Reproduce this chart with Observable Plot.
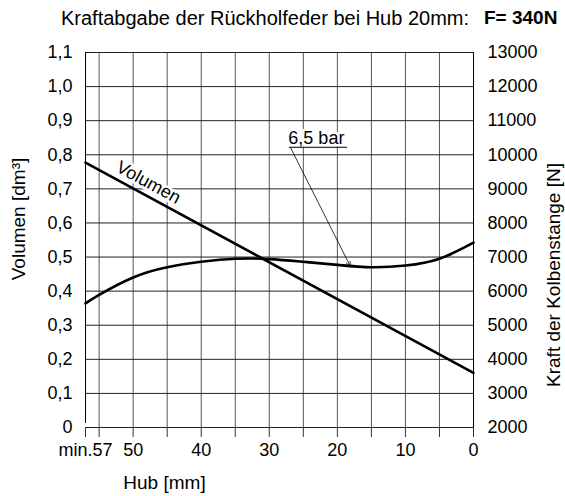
<!DOCTYPE html>
<html><head><meta charset="utf-8">
<script src="https://cdn.jsdelivr.net/npm/d3@7"></script>
<script src="https://cdn.jsdelivr.net/npm/@observablehq/plot@0.6"></script>
<style>
body{margin:0;background:#fff;font-family:"Liberation Sans",Arial,sans-serif;color:#000;}
#title{position:relative;height:36px;width:565px;font-size:20px;}
#title .t1{position:absolute;left:61px;top:7px;}
#title .t2{position:absolute;left:484px;top:7px;font-weight:bold;font-size:19px;}
#chart svg{display:block;}
</style></head><body>
<div id="title"><span class="t1">Kraftabgabe der Rückholfeder bei Hub 20mm:</span><span class="t2">F= 340N</span></div>
<div id="chart"></div>
<script>
// Volumen (left axis, dm³) vs Hub (mm)
const hubVolumen = [57, 0];
const volumenValues = [0.777, 0.16];
// Kraft der Kolbenstange (right axis, N) at 6,5 bar vs Hub (mm)
const hubKraft = [57, 55, 50, 45, 40, 35, 30, 25, 20, 15, 10, 5, 0];
const kraftValues = [5640, 5890, 6400, 6700, 6860, 6950, 6940, 6860, 6770, 6700, 6750, 6950, 7420];
// axes
const volumenTicks = [0, 0.1, 0.2, 0.3, 0.4, 0.5, 0.6, 0.7, 0.8, 0.9, 1.0, 1.1];
const volumenTickLabels = ["0", "0,1", "0,2", "0,3", "0,4", "0,5", "0,6", "0,7", "0,8", "0,9", "1,0", "1,1"];
const kraftTickLabels = ["2000", "3000", "4000", "5000", "6000", "7000", "8000", "9000", "10000", "11000", "12000", "13000"];
const kraftAtZero = 2000, kraftPerVolumen = 10000;
const hubTicks = [57, 50, 40, 30, 20, 10, 0];
const hubTickLabels = ["min.57", "50", "40", "30", "20", "10", "0"];
const hubAllTicks = [57, 55, 50, 45, 40, 35, 30, 25, 20, 15, 10, 5, 0];
const hubGrid = [55, 50, 45, 40, 35, 30, 25, 20, 15, 10, 5];
// annotations
const volumenLabel = [{hub: 47.75, v: 0.719, text: "Volumen"}];
const barLabel = [{hub: 27.2, v: 0.833, text: "6,5 bar"}];
const barUnderline = [{hub1: 27.0, hub2: 18.5, v: 0.822}];
const barLeader = [{hub1: 26.9, v1: 0.822, hub2: 18.1, v2: 0.473}];

const volumenData = hubVolumen.map((h, i) => ({hub: h, v: volumenValues[i]}));
const kraftData = hubKraft.map((h, i) => ({hub: h, v: (kraftValues[i] - kraftAtZero) / kraftPerVolumen}));

const font = "'Liberation Sans', Arial, sans-serif";
const fs = 18;
const chart = Plot.plot({
  width: 565,
  height: 460,
  marginTop: 16,
  marginBottom: 69,
  marginLeft: 85,
  marginRight: 92,
  style: {fontFamily: font, fontSize: fs + "px", background: "#fff", color: "#000", overflow: "visible"},
  x: {domain: [57, 0]},
  y: {domain: [0, 1.1]},
  marks: [
    Plot.ruleX(hubGrid, {y1: 0, y2: 1.1, stroke: "#555", strokeWidth: 1}),
    Plot.ruleY(volumenTicks, {stroke: "#222", strokeWidth: 1}),
    Plot.ruleX([57], {y1: 0, y2: 1.1, stroke: "#000", strokeWidth: 1, insetTop: -4}),
    Plot.ruleX([0], {y1: 0, y2: 1.1, stroke: "#000", strokeWidth: 1}),
    Plot.axisX({
      ticks: hubAllTicks,
      tickFormat: d => { const i = hubTicks.indexOf(d); return i >= 0 ? hubTickLabels[i] : ""; },
      tickSize: 10, tickPadding: 6, stroke: "#333", label: null, fontSize: fs
    }),
    Plot.axisY({
      anchor: "left", ticks: volumenTicks,
      tickFormat: d => volumenTickLabels[volumenTicks.indexOf(d)],
      tickSize: 0, tickPadding: 13, label: null, fontSize: fs
    }),
    Plot.axisY({
      anchor: "right", ticks: volumenTicks,
      tickFormat: d => kraftTickLabels[volumenTicks.indexOf(d)],
      tickSize: 0, tickPadding: 14, label: null, fontSize: fs
    }),
    Plot.text(["Volumen [dm³]"], {frameAnchor: "left", textAnchor: "middle", dx: -67, dy: -21, rotate: -90, fontSize: 19}),
    Plot.text(["Kraft der Kolbenstange [N]"], {frameAnchor: "right", textAnchor: "middle", dx: 80, dy: 35, rotate: -90, fontSize: 19}),
    Plot.text(["Hub [mm]"], {frameAnchor: "bottom-left", textAnchor: "middle", dx: 79, dy: 61, fontSize: 19}),
    Plot.line(volumenData, {x: "hub", y: "v", stroke: "#000", strokeWidth: 2.6}),
    Plot.text(volumenLabel, {x: "hub", y: "v", text: "text", rotate: 28.5, fontSize: 18, stroke: "#fff", strokeWidth: 5, fill: "#000"}),
    Plot.line(kraftData, {x: "hub", y: "v", curve: "natural", stroke: "#000", strokeWidth: 2.6}),
    Plot.text(barLabel, {x: "hub", y: "v", text: "text", textAnchor: "start", lineAnchor: "bottom", fontSize: 18, stroke: "#fff", strokeWidth: 5, fill: "#000"}),
    Plot.ruleY(barUnderline, {x1: "hub1", x2: "hub2", y: "v", stroke: "#000", strokeWidth: 1}),
    Plot.arrow(barLeader, {x1: "hub1", y1: "v1", x2: "hub2", y2: "v2", stroke: "#000", strokeWidth: 0.8, headLength: 9, headAngle: 50})
  ]
});
document.getElementById("chart").appendChild(chart);
</script>
</body></html>
